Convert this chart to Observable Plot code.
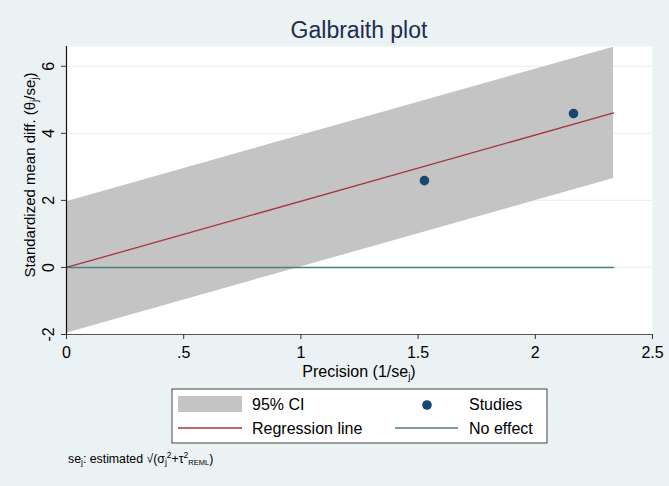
<!DOCTYPE html>
<html>
<head>
<meta charset="utf-8">
<script src="https://cdn.jsdelivr.net/npm/d3@7"></script>
<script src="https://cdn.jsdelivr.net/npm/@observablehq/plot@0.6"></script>
<style>
  html, body { margin: 0; padding: 0; background: #EAF2F3; }
  #chart svg { display: block; }
</style>
</head>
<body>
<div id="chart"></div>
<script>
// Studies: precision (1/se_j) and standardized effect (theta_j/se_j)
const studyPrecision = [1.527, 2.163];
const studyStd = [2.59, 4.59];

// Regression line through the origin and its 95% CI band, at both ends of the precision range
const fitX = [0, 2.334];
const fitY = [0, 4.61];
const ciLow = [-1.96, 2.65];
const ciHigh = [1.96, 6.57];

// Axis ticks
const xTicks = [0, 0.5, 1, 1.5, 2, 2.5];
const xTickLabels = ["0", ".5", "1", "1.5", "2", "2.5"];
const yTicks = [-2, 0, 2, 4, 6];
const yTickLabels = ["-2", "0", "2", "4", "6"];

const studies = studyPrecision.map((x, i) => ({x, y: studyStd[i]}));
const band = fitX.map((x, i) => ({x, lo: ciLow[i], hi: ciHigh[i], fit: fitY[i]}));
const noEffect = fitX.map(x => ({x, y: 0}));

const W = 669, H = 486;
const FONT = "'Liberation Sans', Arial, Helvetica, sans-serif";
const bg = "#EAF2F3";
const ciFill = "#C4C4C4";
const fitColor = "#A6333F";
const nullColor = "#4A807A";
const dotColor = "#1A476F";

const chart = Plot.plot({
  width: W,
  height: H,
  marginLeft: 66,
  marginRight: 17,
  marginTop: 46,
  marginBottom: 152,
  style: {background: "transparent", fontFamily: FONT, color: "#000", overflow: "visible"},
  x: {domain: [0, 2.5]},
  y: {domain: [-2, 6.59]},
  marks: [
    Plot.frame({fill: "white", stroke: null}),
    Plot.gridY(yTicks, {stroke: bg, strokeOpacity: 1, strokeWidth: 1.2}),
    Plot.areaY(band, {x: "x", y1: "lo", y2: "hi", fill: ciFill}),
    Plot.line(noEffect, {x: "x", y: "y", stroke: nullColor, strokeWidth: 1.6}),
    Plot.line(band, {x: "x", y: "fit", stroke: fitColor, strokeWidth: 1.3}),
    Plot.dot(studies, {x: "x", y: "y", r: 4.8, fill: dotColor, stroke: null}),
    Plot.ruleX([0], {stroke: "#111", strokeWidth: 1.2}),
    Plot.ruleY([-2], {stroke: "#555", strokeWidth: 1.2}),
    Plot.axisX({
      ticks: xTicks,
      tickFormat: d => xTickLabels[xTicks.indexOf(d)],
      tickSize: 5,
      tickPadding: 7,
      fontSize: 16,
      stroke: "#333",
      label: null
    }),
    Plot.axisY({
      ticks: yTicks,
      tickFormat: d => yTickLabels[yTicks.indexOf(d)],
      tickRotate: -90,
      tickSize: 5,
      tickPadding: 8,
      fontSize: 16,
      stroke: "#333",
      label: null
    })
  ]
});

document.getElementById("chart").appendChild(chart);
const svg = d3.select(chart);

// Text with sub/superscript runs
function richText(g, x, y, parts, opts = {}) {
  const t = g.append("text")
    .attr("x", x).attr("y", y)
    .attr("font-family", FONT)
    .attr("font-size", opts.size || 16)
    .attr("fill", opts.fill || "#000")
    .attr("text-anchor", opts.anchor || "start");
  if (opts.transform) t.attr("transform", opts.transform);
  let level = 0;
  for (const p of parts) {
    const target = p.shift || 0;
    const s = t.append("tspan").text(p.t);
    if (p.size) s.attr("font-size", p.size);
    if (target !== level) { s.attr("dy", target - level); level = target; }
    if (p.dx) s.attr("dx", p.dx);
  }
  return t;
}

// Title
svg.append("text")
  .attr("x", (66 + (W - 17)) / 2).attr("y", 38)
  .attr("text-anchor", "middle")
  .attr("font-family", FONT).attr("font-size", 23)
  .attr("fill", "#1E2D4F")
  .text("Galbraith plot");

// X axis title
richText(svg, 359, 377, [
  {t: "Precision (1/se"},
  {t: "j", shift: 3, size: 10},
  {t: ")", shift: 0}
], {anchor: "middle", size: 16});

// Y axis title
richText(svg, 0, 0, [
  {t: "Standardized mean diff. (θ"},
  {t: "j", shift: 3, size: 10},
  {t: "/se", shift: 0},
  {t: "j", shift: 3, size: 10},
  {t: ")", shift: 0}
], {anchor: "middle", size: 15, transform: "translate(35,175) rotate(-90)"});

// Legend
const lg = svg.append("g").attr("text-anchor", "start");
lg.append("rect").attr("x", 172).attr("y", 389).attr("width", 375).attr("height", 54)
  .attr("fill", "white").attr("stroke", "#444").attr("stroke-width", 1);
lg.append("rect").attr("x", 178).attr("y", 396).attr("width", 64).attr("height", 16).attr("fill", ciFill);
lg.append("line").attr("x1", 178).attr("x2", 242).attr("y1", 428).attr("y2", 428)
  .attr("stroke", fitColor).attr("stroke-width", 1.3);
lg.append("circle").attr("cx", 427).attr("cy", 405).attr("r", 4.8).attr("fill", dotColor);
lg.append("line").attr("x1", 395).attr("x2", 458).attr("y1", 428).attr("y2", 428)
  .attr("stroke", nullColor).attr("stroke-width", 1.6);
const legendText = [
  {x: 252, y: 410, t: "95% CI"},
  {x: 469, y: 410, t: "Studies"},
  {x: 252, y: 434, t: "Regression line"},
  {x: 469, y: 434, t: "No effect"}
];
for (const d of legendText) {
  lg.append("text").attr("x", d.x).attr("y", d.y).attr("text-anchor", "start")
    .attr("font-family", FONT).attr("font-size", 16).attr("fill", "#000").text(d.t);
}

// Footnote
richText(svg, 68, 463, [
  {t: "se"},
  {t: "j", shift: 2, size: 8.5},
  {t: ": estimated √(σ", shift: 0},
  {t: "j", shift: 2, size: 8.5},
  {t: "2", shift: -5, size: 8.5},
  {t: "+τ", shift: 0},
  {t: "2", shift: -5, size: 8.5},
  {t: "REML", shift: 2, size: 7.5},
  {t: ")", shift: 0}
], {size: 12.3});
</script>
</body>
</html>
